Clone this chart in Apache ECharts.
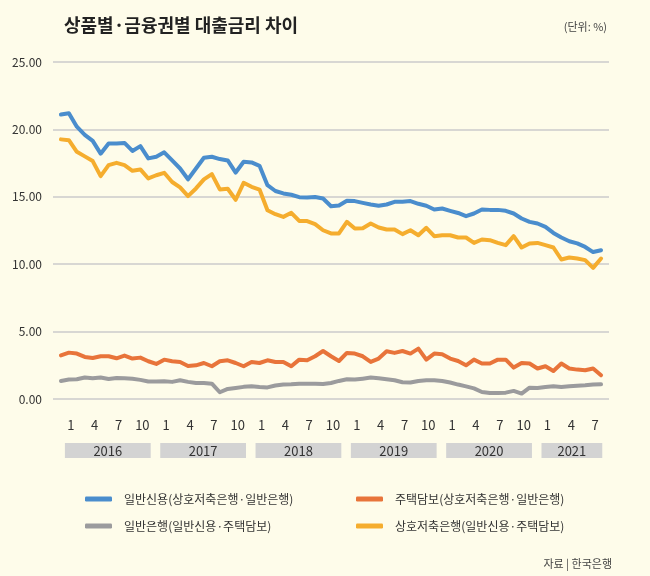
<!DOCTYPE html>
<html>
<head>
<meta charset="utf-8">
<script src="https://cdn.jsdelivr.net/npm/echarts/dist/echarts.min.js"></script>
<style>
html,body{margin:0;padding:0;background:#fefcea;}
#c{width:650px;height:576px;}
</style>
</head>
<body>
<div id="c"></div>
<script>
// ---- data ----
const years = ['2016','2017','2018','2019','2020','2021'];
const startYear = 2015, startMonth = 12;       // first observation: Dec 2015
const monthTicks = [1, 4, 7, 10];
const names = [
  '일반신용(상호저축은행·일반은행)',
  '주택담보(상호저축은행·일반은행)',
  '일반은행(일반신용·주택담보)',
  '상호저축은행(일반신용·주택담보)'
];
const creditGap = [21.1,21.2,20.2,19.6,19.15,18.2,18.96,18.96,19.0,18.4,18.76,17.85,17.97,18.3,17.7,17.1,16.3,17.1,17.9,17.97,17.8,17.7,16.8,17.6,17.55,17.3,15.86,15.43,15.25,15.15,14.97,14.94,14.99,14.87,14.3,14.35,14.7,14.68,14.55,14.43,14.33,14.43,14.63,14.63,14.68,14.48,14.34,14.06,14.13,13.96,13.8,13.56,13.76,14.06,14.03,14.03,13.96,13.76,13.39,13.14,13.02,12.77,12.32,11.98,11.7,11.54,11.28,10.9,11.04];
const mortgageGap = [3.24,3.44,3.37,3.12,3.04,3.17,3.17,3.02,3.22,3.0,3.07,2.8,2.6,2.92,2.8,2.75,2.45,2.5,2.67,2.43,2.8,2.87,2.67,2.43,2.75,2.67,2.87,2.75,2.75,2.43,2.92,2.87,3.17,3.56,3.17,2.82,3.42,3.37,3.17,2.75,3.0,3.54,3.42,3.56,3.37,3.74,2.92,3.37,3.32,3.0,2.82,2.5,2.92,2.63,2.63,2.92,2.92,2.33,2.67,2.63,2.26,2.43,2.08,2.63,2.26,2.18,2.13,2.26,1.76];
const bankGap = [1.34,1.44,1.46,1.6,1.54,1.59,1.49,1.56,1.54,1.5,1.42,1.3,1.29,1.32,1.27,1.39,1.27,1.19,1.19,1.14,0.5,0.75,0.82,0.9,0.94,0.89,0.86,1.0,1.07,1.09,1.14,1.14,1.14,1.12,1.19,1.34,1.46,1.44,1.51,1.59,1.54,1.46,1.39,1.24,1.22,1.34,1.39,1.39,1.34,1.22,1.07,0.94,0.79,0.52,0.45,0.45,0.47,0.6,0.4,0.84,0.82,0.89,0.94,0.89,0.94,0.99,1.02,1.07,1.09];
const savingsGap = [19.26,19.2,18.34,18.0,17.65,16.53,17.35,17.52,17.35,16.93,17.03,16.36,16.6,16.78,16.1,15.7,15.05,15.62,16.29,16.68,15.55,15.6,14.78,16.04,15.74,15.54,14.0,13.71,13.51,13.81,13.21,13.2,12.97,12.52,12.28,12.28,13.14,12.65,12.67,13.02,12.72,12.57,12.57,12.23,12.52,12.15,12.7,12.08,12.15,12.15,11.98,11.98,11.58,11.83,11.78,11.58,11.41,12.08,11.24,11.54,11.58,11.41,11.24,10.35,10.5,10.42,10.3,9.73,10.42];
const yTicks = [0, 5, 10, 15, 20, 25];

// ---- periods (category positions) ----
const N = creditGap.length;
const periods = [];
for (let i = 0; i < N; i++) {
  const t = (startMonth - 1) + i;
  periods.push({ year: startYear + Math.floor(t / 12), month: (t % 12) + 1 });
}
const toPairs = arr => arr.map((v, i) => [i, v]);

const FONT = '"Noto Sans CJK KR", "Noto Sans", sans-serif';
const colors = ['#4a8dcd', '#e8743a', '#9b9b9d', '#f5ad2e'];
const seriesData = [creditGap, mortgageGap, bankGap, savingsGap];

const chart = echarts.init(document.getElementById('c'), null, { renderer: 'canvas' });

const legendPos = [[85, 493], [356, 493], [85, 520], [356, 520]];

chart.setOption({
  backgroundColor: '#fefcea',
  animation: false,
  textStyle: { fontFamily: FONT },
  title: [
    { text: '상품별·금융권별 대출금리 차이', left: 59, top: 11,
      textStyle: { fontSize: 18, fontWeight: 'bold', color: '#222', fontFamily: FONT } },
    { text: '(단위: %)', right: 38, top: 16,
      textStyle: { fontSize: 11, fontWeight: 'normal', color: '#444', fontFamily: FONT } },
    { text: '자료 | 한국은행', right: 33, top: 553,
      textStyle: { fontSize: 11, fontWeight: 'normal', color: '#444', fontFamily: FONT } }
  ],
  grid: { left: 53, right: 41, top: 62, bottom: 177, containLabel: false },
  xAxis: {
    type: 'value', min: -1, max: N, interval: 1,
    axisLine: { show: false }, axisTick: { show: false }, splitLine: { show: false },
    axisLabel: {
      margin: 20, fontSize: 13, color: '#333', fontFamily: FONT, padding: [0, 0, 0, 4],
      formatter: v => {
        const i = Math.round(v);
        if (i < 0 || i >= N) return '';
        const m = periods[i].month;
        return monthTicks.includes(m) ? String(m) : '';
      }
    }
  },
  yAxis: {
    type: 'value', min: yTicks[0], max: yTicks[yTicks.length - 1], interval: yTicks[1] - yTicks[0],
    axisLine: { show: false }, axisTick: { show: false },
    axisLabel: { margin: 11, fontSize: 12, color: '#333', fontFamily: FONT, formatter: v => v.toFixed(2) },
    splitLine: { lineStyle: { color: '#cbcbcb', width: 1.5 } }
  },
  legend: names.map((n, k) => ({
    data: [n], left: legendPos[k][0], top: legendPos[k][1], padding: 0,
    selectedMode: false, icon: 'roundRect', itemWidth: 27, itemHeight: 5,
    textStyle: { fontSize: 12, color: '#333', fontFamily: FONT, padding: [0, 0, 0, 7] }
  })),
  series: names.map((n, k) => ({
    name: n, type: 'line', data: toPairs(seriesData[k]),
    symbol: 'none', smooth: false,
    lineStyle: { color: colors[k], width: 4, join: 'round', cap: 'round' },
    itemStyle: { color: colors[k] },
    z: k === 0 ? 4 : 3
  }))
});

// ---- year bands under the month labels, positioned from the x axis ----
function px(i) { return chart.convertToPixel({ xAxisIndex: 0 }, i); }
const mw = px(1) - px(0);
const graphics = [];
years.forEach(y => {
  const idx = periods.map((p, i) => p.year === +y ? i : -1).filter(i => i >= 0);
  if (!idx.length) return;
  const first = idx[0], last = idx[idx.length - 1];
  const full = periods[last].month === 12;
  const x0 = px(first) - 0.5 * mw;
  const x1 = full ? px(last) - 0.7 * mw : px(last) + 0.15 * mw;
  graphics.push({ type: 'rect', shape: { x: x0, y: 443, width: x1 - x0, height: 15 },
    style: { fill: '#d3d3d3' }, silent: true });
  graphics.push({ type: 'text', x: (x0 + x1) / 2, y: 451,
    style: { text: y, align: 'center', verticalAlign: 'middle', fill: '#333',
      font: '13px ' + FONT }, silent: true });
});
chart.setOption({ graphic: graphics });
</script>
</body>
</html>
